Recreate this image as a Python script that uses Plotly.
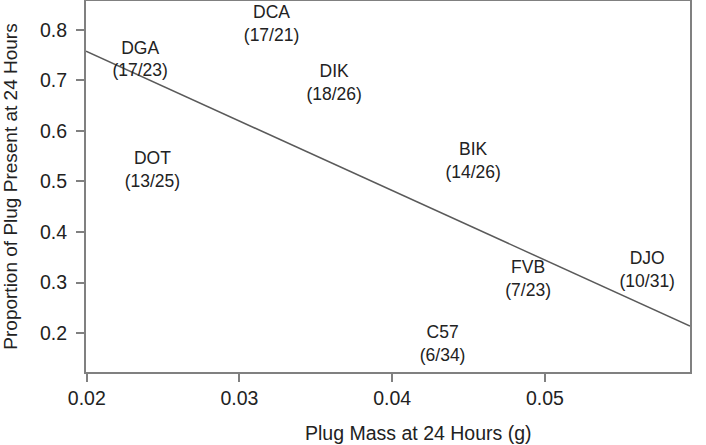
import plotly.graph_objects as go

strains = ["DGA", "DCA", "DIK", "DOT", "BIK", "FVB", "DJO", "C57"]
plugged = [17, 17, 18, 13, 14, 7, 10, 6]
totals = [23, 21, 26, 25, 26, 23, 31, 34]
plug_mass = [0.0235, 0.0321, 0.0362, 0.0243, 0.0453, 0.0489, 0.0567, 0.0433]

# fitted regression line
fit_intercept = 1.032
fit_slope = -13.75

x_range = [0.01995, 0.0595]
y_range = [0.123, 0.857]

TEXT = "#222222"
FRAME = "#808080"
FONT = "Liberation Sans, Arial, sans-serif"

proportion = [n / t for n, t in zip(plugged, totals)]
labels = [f"{s}<br>({n}/{t})" for s, n, t in zip(strains, plugged, totals)]

fig = go.Figure()
fig.add_trace(go.Scatter(
    x=x_range,
    y=[fit_intercept + fit_slope * x for x in x_range],
    mode="lines",
    line=dict(color="#5a5a5a", width=1.5),
    hoverinfo="skip",
))
fig.add_trace(go.Scatter(
    x=plug_mass, y=proportion, text=labels,
    mode="text",
    textposition="middle center",
    textfont=dict(size=17.5, color=TEXT, family=FONT),
    hovertemplate="%{text}<extra></extra>",
))

axis_common = dict(
    showgrid=False, zeroline=False, automargin=False,
    showline=True, mirror=True, linecolor=FRAME, linewidth=2,
    ticks="outside", ticklen=8, tickwidth=1.5, tickcolor=FRAME,
    tickfont=dict(size=19.5, color=TEXT, family=FONT),
)

fig.update_layout(
    width=706, height=445,
    paper_bgcolor="white", plot_bgcolor="white",
    font=dict(family=FONT, color=TEXT, size=19),
    showlegend=False,
    margin=dict(l=86, r=16, t=1, b=73),
    xaxis=dict(
        range=x_range, tickvals=[0.02, 0.03, 0.04, 0.05],
        ticktext=["0.02", "0.03", "0.04", "0.05"],
        **axis_common,
    ),
    yaxis=dict(
        range=y_range, tickvals=[0.2, 0.3, 0.4, 0.5, 0.6, 0.7, 0.8],
        ticktext=["0.2", "0.3", "0.4", "0.5", "0.6", "0.7", "0.8"],
        ticklabelstandoff=5,
        title=dict(text="Proportion of Plug Present at 24 Hours", standoff=17,
                   font=dict(size=19, color=TEXT, family=FONT)),
        **axis_common,
    ),
    # x title sits right of centre in the original
    annotations=[dict(
        text="Plug Mass at 24 Hours (g)", xref="paper", yref="paper",
        x=0.55, y=-0.165, xanchor="center", yanchor="middle", showarrow=False,
        font=dict(size=19.5, color=TEXT, family=FONT),
    )],
)

fig.write_html("out.html", config={"displayModeBar": False},
               post_script="document.body.style.margin='0';")
